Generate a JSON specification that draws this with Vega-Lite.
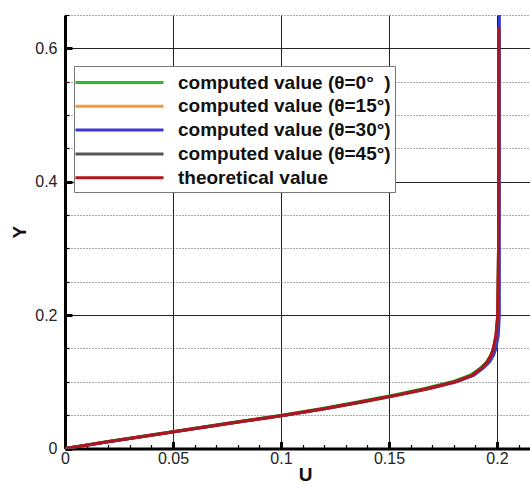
{
  "$schema": "https://vega.github.io/schema/vega-lite/v6.json",
  "width": 465,
  "height": 433.5,
  "autosize": {"type": "none"},
  "padding": {"left": 65, "top": 15, "right": 0, "bottom": 35.5},
  "background": "white",
  "config": {"view": {"stroke": null}},
  "datasets": {
    "curves": [
      {"series": "computed value (θ=0°  )", "Y": 0, "U": 0},
      {"series": "computed value (θ=0°  )", "Y": 0.005, "U": 0.0094},
      {"series": "computed value (θ=0°  )", "Y": 0.01, "U": 0.0192},
      {"series": "computed value (θ=0°  )", "Y": 0.02, "U": 0.0388},
      {"series": "computed value (θ=0°  )", "Y": 0.03, "U": 0.0592},
      {"series": "computed value (θ=0°  )", "Y": 0.04, "U": 0.0797},
      {"series": "computed value (θ=0°  )", "Y": 0.05, "U": 0.1003},
      {"series": "computed value (θ=0°  )", "Y": 0.06, "U": 0.119},
      {"series": "computed value (θ=0°  )", "Y": 0.07, "U": 0.136},
      {"series": "computed value (θ=0°  )", "Y": 0.08, "U": 0.1518},
      {"series": "computed value (θ=0°  )", "Y": 0.09, "U": 0.1664},
      {"series": "computed value (θ=0°  )", "Y": 0.1, "U": 0.1792},
      {"series": "computed value (θ=0°  )", "Y": 0.11, "U": 0.1876},
      {"series": "computed value (θ=0°  )", "Y": 0.12, "U": 0.1921},
      {"series": "computed value (θ=0°  )", "Y": 0.13, "U": 0.1953},
      {"series": "computed value (θ=0°  )", "Y": 0.14, "U": 0.1972},
      {"series": "computed value (θ=0°  )", "Y": 0.15, "U": 0.1984},
      {"series": "computed value (θ=0°  )", "Y": 0.17, "U": 0.1997},
      {"series": "computed value (θ=0°  )", "Y": 0.2, "U": 0.2004},
      {"series": "computed value (θ=0°  )", "Y": 0.3, "U": 0.2007},
      {"series": "computed value (θ=0°  )", "Y": 0.45, "U": 0.2008},
      {"series": "computed value (θ=0°  )", "Y": 0.63, "U": 0.2008},
      {"series": "computed value (θ=15°)", "Y": 0, "U": 0},
      {"series": "computed value (θ=15°)", "Y": 0.005, "U": 0.01},
      {"series": "computed value (θ=15°)", "Y": 0.01, "U": 0.02},
      {"series": "computed value (θ=15°)", "Y": 0.02, "U": 0.0402},
      {"series": "computed value (θ=15°)", "Y": 0.03, "U": 0.0608},
      {"series": "computed value (θ=15°)", "Y": 0.04, "U": 0.0814},
      {"series": "computed value (θ=15°)", "Y": 0.05, "U": 0.1022},
      {"series": "computed value (θ=15°)", "Y": 0.06, "U": 0.1215},
      {"series": "computed value (θ=15°)", "Y": 0.07, "U": 0.1388},
      {"series": "computed value (θ=15°)", "Y": 0.08, "U": 0.1548},
      {"series": "computed value (θ=15°)", "Y": 0.09, "U": 0.1692},
      {"series": "computed value (θ=15°)", "Y": 0.1, "U": 0.1814},
      {"series": "computed value (θ=15°)", "Y": 0.11, "U": 0.1891},
      {"series": "computed value (θ=15°)", "Y": 0.12, "U": 0.1929},
      {"series": "computed value (θ=15°)", "Y": 0.13, "U": 0.1958},
      {"series": "computed value (θ=15°)", "Y": 0.14, "U": 0.1974},
      {"series": "computed value (θ=15°)", "Y": 0.15, "U": 0.1985},
      {"series": "computed value (θ=15°)", "Y": 0.17, "U": 0.1996},
      {"series": "computed value (θ=15°)", "Y": 0.2, "U": 0.2004},
      {"series": "computed value (θ=15°)", "Y": 0.3, "U": 0.2008},
      {"series": "computed value (θ=15°)", "Y": 0.45, "U": 0.2009},
      {"series": "computed value (θ=15°)", "Y": 0.63, "U": 0.2009},
      {"series": "computed value (θ=30°)", "Y": 0, "U": 0},
      {"series": "computed value (θ=30°)", "Y": 0.005, "U": 0.0099},
      {"series": "computed value (θ=30°)", "Y": 0.01, "U": 0.0199},
      {"series": "computed value (θ=30°)", "Y": 0.02, "U": 0.04},
      {"series": "computed value (θ=30°)", "Y": 0.03, "U": 0.0604},
      {"series": "computed value (θ=30°)", "Y": 0.04, "U": 0.081},
      {"series": "computed value (θ=30°)", "Y": 0.05, "U": 0.1017},
      {"series": "computed value (θ=30°)", "Y": 0.06, "U": 0.1208},
      {"series": "computed value (θ=30°)", "Y": 0.07, "U": 0.1379},
      {"series": "computed value (θ=30°)", "Y": 0.08, "U": 0.154},
      {"series": "computed value (θ=30°)", "Y": 0.09, "U": 0.1686},
      {"series": "computed value (θ=30°)", "Y": 0.1, "U": 0.1811},
      {"series": "computed value (θ=30°)", "Y": 0.11, "U": 0.1893},
      {"series": "computed value (θ=30°)", "Y": 0.12, "U": 0.1935},
      {"series": "computed value (θ=30°)", "Y": 0.13, "U": 0.1966},
      {"series": "computed value (θ=30°)", "Y": 0.14, "U": 0.1984},
      {"series": "computed value (θ=30°)", "Y": 0.15, "U": 0.1995},
      {"series": "computed value (θ=30°)", "Y": 0.17, "U": 0.2006},
      {"series": "computed value (θ=30°)", "Y": 0.2, "U": 0.2011},
      {"series": "computed value (θ=30°)", "Y": 0.3, "U": 0.2011},
      {"series": "computed value (θ=30°)", "Y": 0.45, "U": 0.2011},
      {"series": "computed value (θ=30°)", "Y": 0.652, "U": 0.2011},
      {"series": "computed value (θ=45°)", "Y": 0, "U": 0},
      {"series": "computed value (θ=45°)", "Y": 0.005, "U": 0.0097},
      {"series": "computed value (θ=45°)", "Y": 0.01, "U": 0.0196},
      {"series": "computed value (θ=45°)", "Y": 0.02, "U": 0.0396},
      {"series": "computed value (θ=45°)", "Y": 0.03, "U": 0.06},
      {"series": "computed value (θ=45°)", "Y": 0.04, "U": 0.0806},
      {"series": "computed value (θ=45°)", "Y": 0.05, "U": 0.1013},
      {"series": "computed value (θ=45°)", "Y": 0.06, "U": 0.1203},
      {"series": "computed value (θ=45°)", "Y": 0.07, "U": 0.1373},
      {"series": "computed value (θ=45°)", "Y": 0.08, "U": 0.1533},
      {"series": "computed value (θ=45°)", "Y": 0.09, "U": 0.1679},
      {"series": "computed value (θ=45°)", "Y": 0.1, "U": 0.1804},
      {"series": "computed value (θ=45°)", "Y": 0.11, "U": 0.1886},
      {"series": "computed value (θ=45°)", "Y": 0.12, "U": 0.1927},
      {"series": "computed value (θ=45°)", "Y": 0.13, "U": 0.1957},
      {"series": "computed value (θ=45°)", "Y": 0.14, "U": 0.1974},
      {"series": "computed value (θ=45°)", "Y": 0.15, "U": 0.1985},
      {"series": "computed value (θ=45°)", "Y": 0.17, "U": 0.1997},
      {"series": "computed value (θ=45°)", "Y": 0.2, "U": 0.2004},
      {"series": "computed value (θ=45°)", "Y": 0.3, "U": 0.2007},
      {"series": "computed value (θ=45°)", "Y": 0.45, "U": 0.2008},
      {"series": "computed value (θ=45°)", "Y": 0.63, "U": 0.2008},
      {"series": "theoretical value", "Y": 0, "U": 0},
      {"series": "theoretical value", "Y": 0.005, "U": 0.0098},
      {"series": "theoretical value", "Y": 0.01, "U": 0.0198},
      {"series": "theoretical value", "Y": 0.02, "U": 0.0398},
      {"series": "theoretical value", "Y": 0.03, "U": 0.0602},
      {"series": "theoretical value", "Y": 0.04, "U": 0.0808},
      {"series": "theoretical value", "Y": 0.05, "U": 0.1015},
      {"series": "theoretical value", "Y": 0.06, "U": 0.1205},
      {"series": "theoretical value", "Y": 0.07, "U": 0.1375},
      {"series": "theoretical value", "Y": 0.08, "U": 0.1535},
      {"series": "theoretical value", "Y": 0.09, "U": 0.168},
      {"series": "theoretical value", "Y": 0.1, "U": 0.1805},
      {"series": "theoretical value", "Y": 0.11, "U": 0.1885},
      {"series": "theoretical value", "Y": 0.12, "U": 0.1925},
      {"series": "theoretical value", "Y": 0.13, "U": 0.1955},
      {"series": "theoretical value", "Y": 0.14, "U": 0.1972},
      {"series": "theoretical value", "Y": 0.15, "U": 0.1983},
      {"series": "theoretical value", "Y": 0.17, "U": 0.1995},
      {"series": "theoretical value", "Y": 0.2, "U": 0.2003},
      {"series": "theoretical value", "Y": 0.3, "U": 0.2007},
      {"series": "theoretical value", "Y": 0.45, "U": 0.2008},
      {"series": "theoretical value", "Y": 0.632, "U": 0.2008}
    ]
  },
  "data": {"name": "curves"},
  "resolve": {"axis": {"x": "independent", "y": "independent"}},
  "layer": [
    {
      "mark": {"type": "point", "opacity": 0},
      "encoding": {
        "x": {
          "field": "U", "type": "quantitative",
          "scale": {"domain": [0, 0.21528], "nice": false, "zero": false},
          "axis": {
            "orient": "bottom",
            "values": [0.01, 0.02, 0.03, 0.04, 0.06, 0.07, 0.08, 0.09, 0.11, 0.12, 0.13, 0.14, 0.16, 0.17, 0.18, 0.19, 0.21],
            "grid": false, "domain": false, "labels": false, "title": null,
            "ticks": true, "tickSize": -4, "tickWidth": 1.2, "tickColor": "#000"
          }
        },
        "y": {
          "field": "Y", "type": "quantitative",
          "scale": {"domain": [0, 0.65], "nice": false, "zero": false},
          "axis": {
            "orient": "left",
            "values": [0.05, 0.1, 0.15, 0.25, 0.3, 0.35, 0.45, 0.5, 0.55, 0.65],
            "grid": true, "gridColor": "#555", "gridDash": [1, 2], "gridWidth": 1,
            "domain": false, "labels": false, "title": null,
            "ticks": true, "tickSize": -4, "tickWidth": 1.2, "tickColor": "#000"
          }
        }
      }
    },
    {
      "mark": {"type": "line", "strokeWidth": 3, "clip": true},
      "encoding": {
        "x": {
          "field": "U", "type": "quantitative",
          "scale": {"domain": [0, 0.21528], "nice": false, "zero": false},
          "axis": {
            "orient": "bottom",
            "values": [0, 0.05, 0.1, 0.15, 0.2],
            "format": ".2~f",
            "grid": true, "gridColor": "#222", "gridWidth": 1,
            "domain": true, "domainColor": "#000", "domainWidth": 3,
            "ticks": true, "tickSize": -7, "tickWidth": 3, "tickColor": "#000",
            "labelFont": "Liberation Sans", "labelFontSize": 16, "labelColor": "#222",
            "labelPadding": 9, "labelFlush": false, "labelOverlap": false,
            "title": "U", "titleFont": "Liberation Sans", "titleFontSize": 19, "titleFontWeight": "bold", "titleColor": "#111",
            "titleX": 240, "titleY": 32, "titleBaseline": "alphabetic", "titleAlign": "center"
          }
        },
        "y": {
          "field": "Y", "type": "quantitative",
          "scale": {"domain": [0, 0.65], "nice": false, "zero": false},
          "axis": {
            "orient": "left",
            "values": [0, 0.2, 0.4, 0.6],
            "format": ".1~f",
            "grid": true, "gridColor": "#222", "gridWidth": 1,
            "domain": true, "domainColor": "#000", "domainWidth": 3,
            "ticks": true, "tickSize": -7, "tickWidth": 3, "tickColor": "#000",
            "labelFont": "Liberation Sans", "labelFontSize": 16, "labelColor": "#222",
            "labelPadding": 15, "labelFlush": false, "labelOverlap": false,
            "title": "Y", "titleFont": "Liberation Sans", "titleFontSize": 19, "titleFontWeight": "bold", "titleColor": "#111",
            "titleX": -46, "titleY": 216.75, "titleAngle": -90, "titleBaseline": "middle", "titleAlign": "center"
          }
        },
        "order": {"field": "Y", "type": "quantitative"},
        "color": {
          "field": "series", "type": "nominal",
          "scale": {
            "domain": ["computed value (θ=0°  )", "computed value (θ=15°)", "computed value (θ=30°)", "computed value (θ=45°)", "theoretical value"],
            "range": ["#22c022", "#f09a3a", "#3a3ad2", "#555555", "#b0141c"]
          },
          "legend": {
            "orient": "none", "legendX": 9, "legendY": 51,
            "title": null,
            "fillColor": "#ffffff", "strokeColor": "#777777",
            "padding": 4, "rowPadding": 0.8,
            "symbolType": "M-4,0H4", "symbolSize": 484, "symbolStrokeWidth": 3,
            "symbolOffset": 29, "labelOffset": 46,
            "labelExpr": "replace(datum.label, '°  )', '°\u00a0\u00a0)')",
            "labelFont": "Liberation Sans", "labelFontSize": 19, "labelFontWeight": "bold", "labelColor": "#111",
            "labelLimit": 400
          }
        }
      }
    }
  ]
}
